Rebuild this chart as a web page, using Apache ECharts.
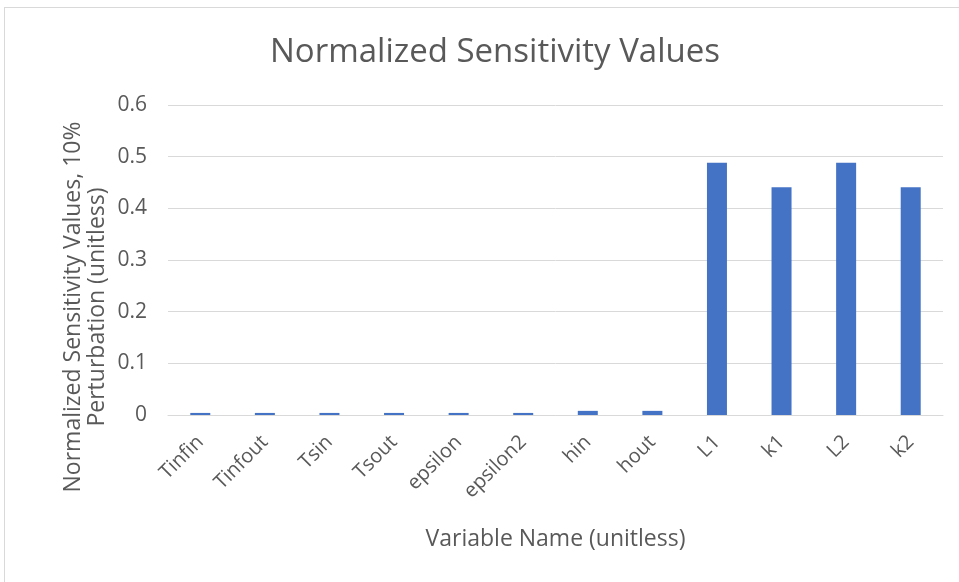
<!DOCTYPE html>
<html>
<head>
    <meta charset="utf-8">
    <title>Normalized Sensitivity Values</title>
    <style>
        html, body { margin: 0; padding: 0; background: #fff; }
        #frame { position: absolute; left: 4px; top: 7px; width: 1000px; height: 600px; border: 1px solid #d9d9d9; }
        #chart_main { position: absolute; left: 0; top: 0; width: 959px; height: 582px; }
    </style>
</head>
<body>
    <div id="frame"></div>
    <div id="chart_main"></div>
    <script src="https://cdn.jsdelivr.net/npm/echarts@6/dist/echarts.min.js"></script>
    <script>
        // data
        var categories = ['Tinfin', 'Tinfout', 'Tsin', 'Tsout', 'epsilon', 'epsilon2', 'hin', 'hout', 'L1', 'k1', 'L2', 'k2'];
        var sensValues = [0.004, 0.004, 0.004, 0.004, 0.004, 0.004, 0.008, 0.008, 0.488, 0.441, 0.488, 0.441];
        var yTicks = [0, 0.1, 0.2, 0.3, 0.4, 0.5, 0.6];

        var textColor = '#595959';
        var fontName = '"Open Sans", "Noto Sans", sans-serif';

        var myChart = echarts.init(document.getElementById('chart_main'), null, { renderer: 'canvas' });

        var option = {
            animation: false,
            title: {
                text: 'Normalized Sensitivity Values',
                left: 490,
                textAlign: 'center',
                top: 31,
                textStyle: { color: textColor, fontSize: 33, fontWeight: 'normal', fontFamily: fontName }
            },
            // y axis title sits lower than the plot centre, so draw it by hand
            graphic: [{
                type: 'text',
                x: 85,
                y: 307,
                rotation: Math.PI / 2,
                style: {
                    text: 'Normalized Sensitivity Values, 10%\nPerturbation (unitless)',
                    textAlign: 'center',
                    textVerticalAlign: 'middle',
                    fill: textColor,
                    fontSize: 23,
                    lineHeight: 24,
                    fontFamily: fontName
                }
            }],
            grid: { left: 168, right: 16, top: 105, bottom: 167, containLabel: false },
            xAxis: {
                type: 'category',
                data: categories,
                name: 'Variable Name (unitless)',
                nameLocation: 'middle',
                nameGap: 113,
                nameTextStyle: { color: textColor, fontSize: 23, fontFamily: fontName },
                axisLine: { lineStyle: { color: '#d9d9d9', width: 1 } },
                axisTick: { show: false },
                axisLabel: { rotate: 45, color: textColor, fontSize: 20, fontFamily: fontName, margin: 24, interval: 0 }
            },
            yAxis: {
                type: 'value',
                min: yTicks[0],
                max: yTicks[yTicks.length - 1],
                interval: 0.1,
                axisLine: { show: false },
                axisTick: { show: false },
                axisLabel: { color: textColor, fontSize: 21, fontFamily: fontName, margin: 21 },
                splitLine: { lineStyle: { color: '#d9d9d9', width: 1 } }
            },
            series: [{
                type: 'bar',
                data: sensValues,
                barWidth: 20,
                itemStyle: { color: '#4472C4' }
            }]
        };

        myChart.setOption(option);
    </script>
</body>
</html>
